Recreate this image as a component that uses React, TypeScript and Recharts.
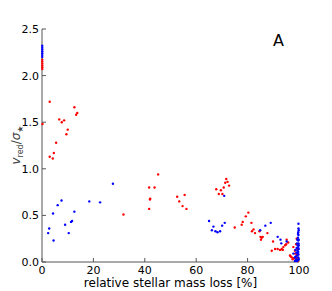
import { Label, Scatter, ScatterChart, XAxis, YAxis } from 'recharts';

// relative stellar mass loss [%] vs v_red / sigma_*
const redPoints: Array<[number, number]> = [
	[0.1, 2.07], [0.1, 2.09], [0.1, 2.11], [0.1, 2.13], [0.1, 2.15], [0.1, 2.17],
	[0.2, 1.48], [3.0, 1.72], [12.6, 1.66], [13.7, 1.6], [13.3, 1.58], [6.7, 1.53],
	[8.6, 1.52], [7.7, 1.5], [10.0, 1.42], [9.5, 1.37], [5.5, 1.28], [3.0, 1.13],
	[4.2, 1.11], [4.6, 1.17],
	[45.2, 0.94], [41.7, 0.8], [43.8, 0.8], [42.1, 0.68], [42.0, 0.67], [41.7, 0.57],
	[31.7, 0.51], [52.6, 0.7], [55.5, 0.72], [53.4, 0.65], [54.7, 0.6], [56.2, 0.57],
	[71.7, 0.89], [71.3, 0.85], [72.2, 0.86], [72.8, 0.82], [70.7, 0.8], [67.8, 0.78],
	[69.6, 0.77], [68.8, 0.73], [70.2, 0.73],
	[75.0, 0.37], [78.1, 0.43], [77.7, 0.4], [79.3, 0.49], [80.3, 0.53], [81.5, 0.42],
	[82.3, 0.35], [81.7, 0.33], [82.9, 0.31], [84.6, 0.33], [85.0, 0.27], [85.5, 0.26],
	[85.2, 0.24], [85.9, 0.27], [87.7, 0.31], [89.9, 0.22], [89.4, 0.12], [90.7, 0.14],
	[91.7, 0.14], [92.6, 0.13], [93.3, 0.14], [93.9, 0.16], [93.7, 0.13], [94.6, 0.18],
	[95.0, 0.19], [95.2, 0.24], [95.8, 0.21], [96.5, 0.07], [97.2, 0.05], [98.1, 0.04],
	[97.8, 0.16], [98.4, 0.12], [98.8, 0.02], [99.2, 0.08], [99.0, 0.05], [97.5, 0.03],
	[96.8, 0.06], [99.5, 0.01], [98.5, 0.09], [99.3, 0.14], [98.9, 0.19], [99.1, 0.25],
	[99.4, 0.03],
];

const bluePoints: Array<[number, number]> = [
	[0.1, 2.2], [0.1, 2.22], [0.1, 2.24], [0.1, 2.26], [0.1, 2.28], [0.1, 2.3], [0.1, 2.32],
	[27.6, 0.84], [18.4, 0.65], [22.6, 0.64], [7.6, 0.66], [6.1, 0.61], [4.3, 0.52],
	[12.6, 0.54], [9.0, 0.4], [11.7, 0.44], [11.3, 0.43], [2.8, 0.36], [2.4, 0.31],
	[10.4, 0.31], [4.5, 0.23],
	[70.9, 0.71], [65.0, 0.44], [66.1, 0.34], [66.7, 0.38], [67.5, 0.33], [68.3, 0.32],
	[69.3, 0.33], [70.1, 0.39], [71.1, 0.42],
	[84.9, 0.34], [86.9, 0.39], [89.0, 0.42], [91.7, 0.27], [92.8, 0.24], [93.1, 0.2],
	[95.2, 0.22], [97.8, 0.09],
	[99.8, 0.41], [99.8, 0.36], [99.7, 0.32], [99.8, 0.29], [99.6, 0.26], [99.7, 0.23],
	[99.8, 0.2], [99.5, 0.18], [99.7, 0.16], [99.9, 0.14], [99.4, 0.12], [99.6, 0.1],
	[99.8, 0.08], [99.3, 0.07], [99.7, 0.05], [99.9, 0.03], [99.5, 0.02], [99.2, 0.01],
	[98.9, 0.03], [99.0, 0.1], [98.7, 0.06], [99.1, 0.15], [99.6, 0.3], [99.9, 0.34],
	[99.9, 0.24], [99.2, 0.2], [98.6, 0.13], [98.4, 0.01], [99.9, 0.18], [99.7, 0.11],
	[99.3, 0.24], [98.4, 0.05],
];

const xTicks = [0, 20, 40, 60, 80, 100];
const yTicks = [0, 0.5, 1, 1.5, 2, 2.5];

const toRows = (pts: Array<[number, number]>) => pts.map(([x, y]) => ({ x, y }));

const font = 'DejaVu Sans, sans-serif';
const frame = '#555';

const dot = (color: string) => (props: any) =>
	<circle cx={props.cx} cy={props.cy} r={1.2} fill={color} />;

const YLabel = () => (
	<text
		x={20}
		y={145}
		transform="rotate(-90 20 145)"
		textAnchor="middle"
		fontFamily={font}
		fontSize={12}
		fill="#444"
	>
		<tspan fontStyle="italic">v</tspan>
		<tspan fontSize={8} dy={3}>red</tspan>
		<tspan dy={-3}>/</tspan>
		<tspan fontStyle="italic">σ</tspan>
		<tspan fontSize={8} dy={3}>★</tspan>
	</text>
);

export default function App() {
	return (
		<div style={{ position: 'absolute', left: 0, top: 0, width: 332, height: 291 }}>
			<ScatterChart width={332} height={291} margin={{ top: 29, right: 33, bottom: 0, left: 0 }}>
				<XAxis
					type="number"
					dataKey="x"
					domain={[0, 100]}
					ticks={xTicks}
					height={29}
					tickSize={-4}
					tickMargin={8}
					tick={{ fill: '#000', fontSize: 11, fontFamily: font }}
					tickLine={{ stroke: frame }}
					axisLine={{ stroke: frame }}
				>
					<Label
						value="relative stellar mass loss [%]"
						position="insideBottom"
						offset={4}
						style={{ fill: '#000', fontSize: 12, fontFamily: font }}
					/>
				</XAxis>
				<XAxis
					xAxisId="top"
					orientation="top"
					type="number"
					domain={[0, 100]}
					ticks={xTicks}
					height={0}
					tickSize={-4}
					tick={false}
					tickLine={{ stroke: frame }}
					axisLine={{ stroke: frame }}
				/>
				<YAxis
					type="number"
					dataKey="y"
					domain={[0, 2.5]}
					ticks={yTicks}
					width={42}
					tickSize={-4}
					tickMargin={7}
					tickFormatter={(v: number) => v.toFixed(1)}
					tick={{ fill: '#000', fontSize: 11, fontFamily: font }}
					tickLine={{ stroke: frame }}
					axisLine={{ stroke: frame }}
				>
					<Label content={<YLabel />} />
				</YAxis>
				<YAxis
					yAxisId="right"
					orientation="right"
					type="number"
					domain={[0, 2.5]}
					ticks={yTicks}
					width={0}
					tickSize={-4}
					tick={false}
					tickLine={{ stroke: frame }}
					axisLine={{ stroke: frame }}
				/>
				<Scatter data={toRows(redPoints)} shape={dot('#ff0000')} isAnimationActive={false} />
				<Scatter data={toRows(bluePoints)} shape={dot('#0000ff')} isAnimationActive={false} />
			</ScatterChart>
			<div
				style={{
					position: 'absolute',
					left: 273,
					top: 33,
					fontFamily: font,
					fontSize: 16,
					lineHeight: '16px',
					color: '#000',
				}}
			>
				A
			</div>
		</div>
	);
}
